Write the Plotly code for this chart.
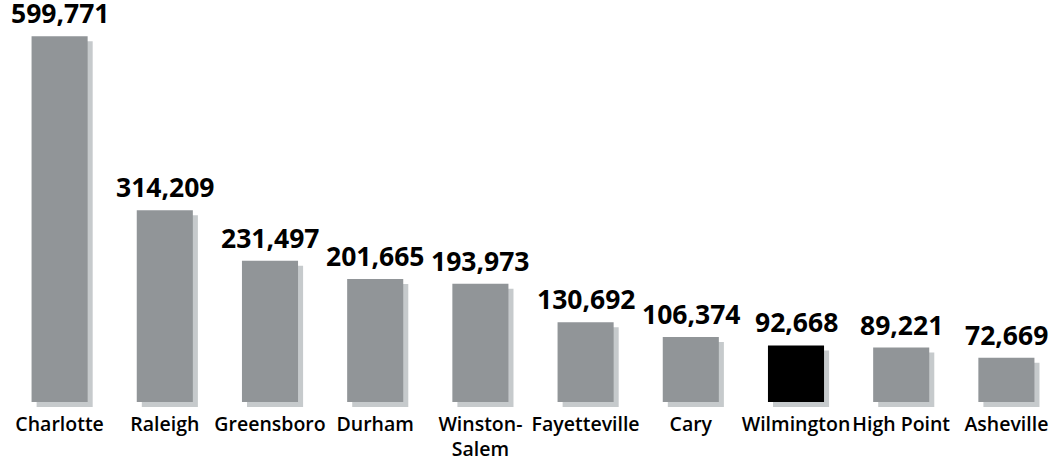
import plotly.graph_objects as go

# North Carolina city populations
cities = ["Charlotte", "Raleigh", "Greensboro", "Durham", "Winston-<br>Salem",
          "Fayetteville", "Cary", "Wilmington", "High Point", "Asheville"]
population = [599771, 314209, 231497, 201665, 193973,
              130692, 106374, 92668, 89221, 72669]
highlight = "Wilmington"

BAR = "#919598"
HILITE = "#000000"
SHADOW = "#c6cacc"

# pixel geometry of the plot area
PLOT_H = 408          # plot area height in px (top margin 0)
ZERO_FROM_BOTTOM = 6  # px between the zero line and the plot-area bottom
PX_PER_UNIT = 366 / 600000
SHADOW_DX = 0.048     # shadow shift in category units (~5 px)
SHADOW_DY = 5 / PX_PER_UNIT
BAR_W = 0.533

ymin = -ZERO_FROM_BOTTOM / PX_PER_UNIT
ymax = ymin + PLOT_H / PX_PER_UNIT

colors = [HILITE if c == highlight else BAR for c in cities]

fig = go.Figure()
# drop shadow behind each bar
fig.add_trace(go.Bar(
    x=cities, y=population, base=[-SHADOW_DY] * len(cities),
    width=BAR_W, offset=-BAR_W / 2 + SHADOW_DX,
    marker=dict(color=SHADOW, line=dict(width=0)),
    hoverinfo="skip", showlegend=False,
))
# main bars
fig.add_trace(go.Bar(
    x=cities, y=population,
    width=BAR_W, offset=-BAR_W / 2,
    marker=dict(color=colors, line=dict(width=0)),
    showlegend=False,
))

# value labels above the bars
for c, v in zip(cities, population):
    fig.add_annotation(
        x=c, y=v, text=f"{v:,}", showarrow=False, borderpad=0,
        xanchor="center", yanchor="bottom", yshift=4,
        font=dict(family="Open Sans", size=26.5, color="#000000", weight=700),
    )

fig.update_layout(
    width=1064, height=460,
    margin=dict(l=7, r=5, t=0, b=460 - PLOT_H, autoexpand=False),
    barmode="overlay",
    plot_bgcolor="white", paper_bgcolor="white",
    xaxis=dict(
        type="category", range=[-0.5, len(cities) - 0.5],
        showgrid=False, zeroline=False, showline=False, ticks="",
        tickangle=0, automargin=False,
        tickfont=dict(family="Open Sans", size=19.5, color="#000000", weight=600),
        ticklabelstandoff=2,
    ),
    yaxis=dict(
        range=[ymin, ymax], visible=False, showgrid=False, zeroline=False,
    ),
)

fig.write_html("out.html")
